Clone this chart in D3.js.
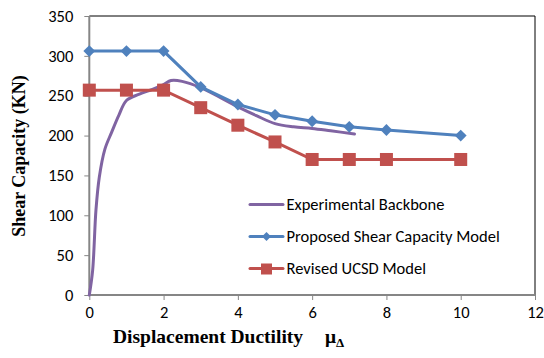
<!DOCTYPE html>
<html><head><meta charset="utf-8">
<script src="https://cdn.jsdelivr.net/npm/d3@7"></script>
<style>body{margin:0;background:#fff}svg{display:block}</style>
</head><body><svg id="c" width="544" height="358"></svg>
<script>
const xTicks = [0,2,4,6,8,10,12];
const yTicks = [0,50,100,150,200,250,300,350];
const expX = [0,0.09,0.18,0.27,0.42,0.6,0.8,1.0,1.35,1.7,2.0,2.2,2.5,3.0,4.0,4.5,5.0,5.5,6.0,6.5,7.14];
const expY = [0,31,107,148,183,204,226,244,252,258,264,269,268,260,236,225,215,211,209,206,202];
const propX = [0,1,2,3,4,5,6,7,8,10];
const propY = [306,306,306,261,239,226,218,211,207,200];
const ucsdX = [0,1,2,3,4,5,6,7,8,10];
const ucsdY = [257,257,257,235,213,192,170,170,170,170];
const seriesNames = ["Experimental Backbone","Proposed Shear Capacity Model","Revised UCSD Model"];
const colors = ["#8064A2","#4F81BD","#C0504D"];

const svg = d3.select("#c");
const L=89.3, R=535, T=16, B=295;
const x = d3.scaleLinear().domain([0,12]).range([L,R]);
const y = d3.scaleLinear().domain([0,350]).range([B,T]);
const tf = "Carlito, Calibri, Lato, 'Open Sans', sans-serif";

svg.append("path").attr("d",`M${L},${T}H${R}V${B}`).attr("fill","none").attr("stroke","#000").attr("stroke-width",1);

const gx = svg.append("g").attr("transform",`translate(0,${B})`)
  .call(d3.axisBottom(x).tickValues(xTicks).tickSize(5).tickPadding(6).tickFormat(d3.format("d")));
const gy = svg.append("g").attr("transform",`translate(${L},0)`)
  .call(d3.axisLeft(y).tickValues(yTicks).tickSize(5).tickPadding(11).tickFormat(d3.format("d")));
[gx,gy].forEach(g=>{
  g.select(".domain").attr("stroke","#868686").attr("stroke-width",2);
  g.selectAll(".tick line").attr("stroke","#868686").attr("stroke-width",1);
  g.selectAll(".tick text").attr("font-family",tf).attr("font-size",16.5).attr("fill","#000");
});
gy.select(".domain").attr("d",`M0,${B}V${T}`);
gx.select(".domain").attr("d",`M${L},0H${R}`);

const toPts = (xs,ys)=>xs.map((v,i)=>[v,ys[i]]);
const line = d3.line().x(d=>x(d[0])).y(d=>y(d[1]));
const smooth = d3.line().x(d=>x(d[0])).y(d=>y(d[1])).curve(d3.curveCatmullRom.alpha(0.5));

svg.append("path").datum(toPts(expX,expY)).attr("d",smooth).attr("fill","none")
  .attr("stroke",colors[0]).attr("stroke-width",3).attr("stroke-linecap","round");
svg.append("path").datum(toPts(propX,propY)).attr("d",line).attr("fill","none")
  .attr("stroke",colors[1]).attr("stroke-width",3);
svg.append("path").datum(toPts(ucsdX,ucsdY)).attr("d",line).attr("fill","none")
  .attr("stroke",colors[2]).attr("stroke-width",3);

svg.append("g").selectAll("path").data(toPts(propX,propY)).join("path")
  .attr("d",d3.symbol().type(d3.symbolSquare).size(70))
  .attr("transform",d=>`translate(${x(d[0])},${y(d[1])}) rotate(45)`).attr("fill",colors[1]);
svg.append("g").selectAll("rect").data(toPts(ucsdX,ucsdY)).join("rect")
  .attr("x",d=>x(d[0])-6.5).attr("y",d=>y(d[1])-6.5).attr("width",13).attr("height",13)
  .attr("fill",colors[2]);

const lg = svg.append("g");
const ly = [204.5,236.5,268.5];
seriesNames.forEach((n,i)=>{
  lg.append("line").attr("x1",250).attr("x2",283).attr("y1",ly[i]).attr("y2",ly[i])
    .attr("stroke",colors[i]).attr("stroke-width",3).attr("stroke-linecap","round");
  if(i===1) lg.append("path").attr("d",d3.symbol().type(d3.symbolSquare).size(40)())
    .attr("transform",`translate(266.5,${ly[i]}) rotate(45)`).attr("fill",colors[1]);
  if(i===2) lg.append("rect").attr("x",261).attr("y",ly[i]-5).attr("width",11).attr("height",11).attr("fill",colors[2]);
  lg.append("text").attr("x",286.5).attr("y",ly[i]).attr("dy","0.35em")
    .attr("font-family",tf).attr("font-size",16.5).attr("fill","#000").text(n);
});

svg.append("text").attr("transform","translate(25,156) rotate(-90)").attr("text-anchor","middle")
  .attr("font-family","'Liberation Serif','Times New Roman',serif").attr("font-weight","bold")
  .attr("font-size",18).text("Shear Capacity (KN)");
const xt = svg.append("text").attr("x",113).attr("y",343)
  .attr("font-family","'Liberation Serif','Times New Roman',serif").attr("font-weight","bold")
  .attr("font-size",19.5);
xt.append("tspan").text("Displacement Ductility");
xt.append("tspan").attr("x",325).text("μ");
xt.append("tspan").attr("font-size",13).attr("dy",4).text("Δ");
</script></body></html>
